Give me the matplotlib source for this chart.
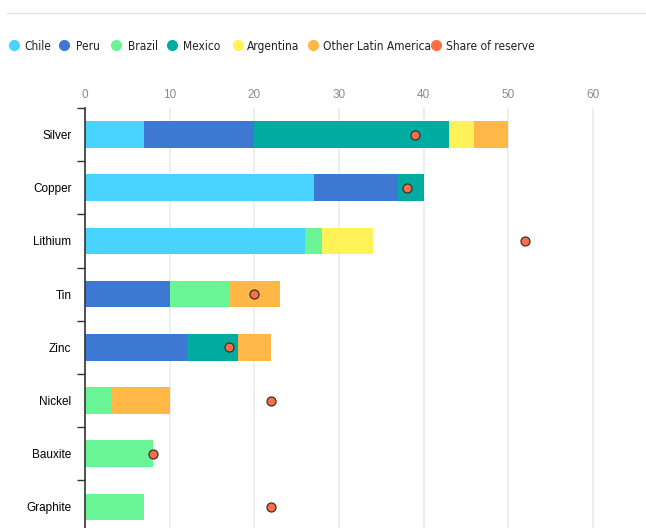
import numpy as np
import matplotlib.pyplot as plt
from matplotlib import font_manager
from matplotlib.ticker import FixedLocator

minerals = ['Silver', 'Copper', 'Lithium', 'Tin', 'Zinc', 'Nickel', 'Bauxite', 'Graphite']
chile = [7, 27, 26, 0, 0, 0, 0, 0]
peru = [13, 10, 0, 10, 12, 0, 0, 0]
brazil = [0, 0, 2, 7, 0, 3, 8, 7]
mexico = [23, 3, 0, 0, 6, 0, 0, 0]
argentina = [3, 0, 6, 0, 0, 0, 0, 0]
other_latam = [4, 0, 0, 6, 4, 7, 0, 0]
share_of_reserve = [39, 38, 52, 20, 17, 22, 8, 22]

series = [('Chile', chile, '#49D3FF'),
          ('Peru', peru, '#3D79D2'),
          ('Brazil', brazil, '#69F595'),
          ('Mexico', mexico, '#00AC9F'),
          ('Argentina', argentina, '#FFF158'),
          ('Other Latin America', other_latam, '#FFB745')]
dot_color = '#FF6E45'

# look for a condensed face for the legend
cond_file = None
for f in font_manager.fontManager.ttflist:
    fn = f.fname.lower()
    if ('condensed' in fn or 'narrow' in fn) and 'bold' not in fn \
            and 'oblique' not in fn and 'italic' not in fn and 'light' not in fn \
            and 'mono' not in fn and 'serif' not in fn.replace('sans', ''):
        cond_file = f.fname
        break
if cond_file:
    leg_font = font_manager.FontProperties(fname=cond_file, size=8.6)
else:
    leg_font = font_manager.FontProperties(family='Roboto', size=8.5)

fig = plt.figure(figsize=(6.46, 5.28), dpi=100)
ax = fig.add_axes([85.3 / 646, 0, 1 - 85.3 / 646, 1 - 108 / 528])

y = np.arange(len(minerals))
left = np.zeros(len(minerals))
for name, vals, col in series:
    ax.barh(y, vals, left=left, height=0.5, color=col, zorder=2)
    left += np.array(vals)
ax.scatter(share_of_reserve, y, s=42, color=dot_color, edgecolor='#333333',
           linewidth=0.9, zorder=3)

ax.set_xlim(0, 66.3)
ax.set_ylim(7.395, -0.5)
ax.xaxis.tick_top()
ax.set_xticks([0, 10, 20, 30, 40, 50, 60])
ax.tick_params(axis='x', length=0, pad=5, labelsize=8.5, labelcolor='#8a8a8a')
ax.grid(axis='x', color='#ebebeb', linewidth=1.2, zorder=0)
ax.set_yticks(y)
ax.set_yticklabels(minerals, fontsize=8.5, family='Liberation Sans')
ax.tick_params(axis='y', length=0, pad=10)
ax.yaxis.set_minor_locator(FixedLocator(np.arange(-0.5, 8, 1)))
ax.tick_params(axis='y', which='minor', length=6, width=1, color='#333333')
for lab in ax.get_xticklabels():
    lab.set_family('Liberation Sans')
for s in ['top', 'right', 'bottom']:
    ax.spines[s].set_visible(False)
ax.spines['left'].set_color('#333333')
ax.spines['left'].set_linewidth(1.2)

# top rule
fig.add_artist(plt.Line2D([7 / 646, 1], [1 - 13 / 528, 1 - 13 / 528],
                          color='#e3e3e3', linewidth=1))

# legend
legend_items = [('Chile', '#49D3FF', 14, 24), ('Peru', '#3D79D2', 64, 76),
                ('Brazil', '#69F595', 116, 128), ('Mexico', '#00AC9F', 172, 183),
                ('Argentina', '#FFF158', 238, 247),
                ('Other Latin America', '#FFB745', 313, 323),
                ('Share of reserve', dot_color, 436, 446)]
ly = 1 - 45 / 528
for name, col, cx, tx in legend_items:
    fig.add_artist(plt.Line2D([cx / 646], [ly], marker='o', markersize=7,
                              color=col, linestyle='none'))
    fig.text(tx / 646, ly, name, fontproperties=leg_font, va='center_baseline',
             ha='left', color='#222222')

fig.savefig('out.png', dpi=100)
